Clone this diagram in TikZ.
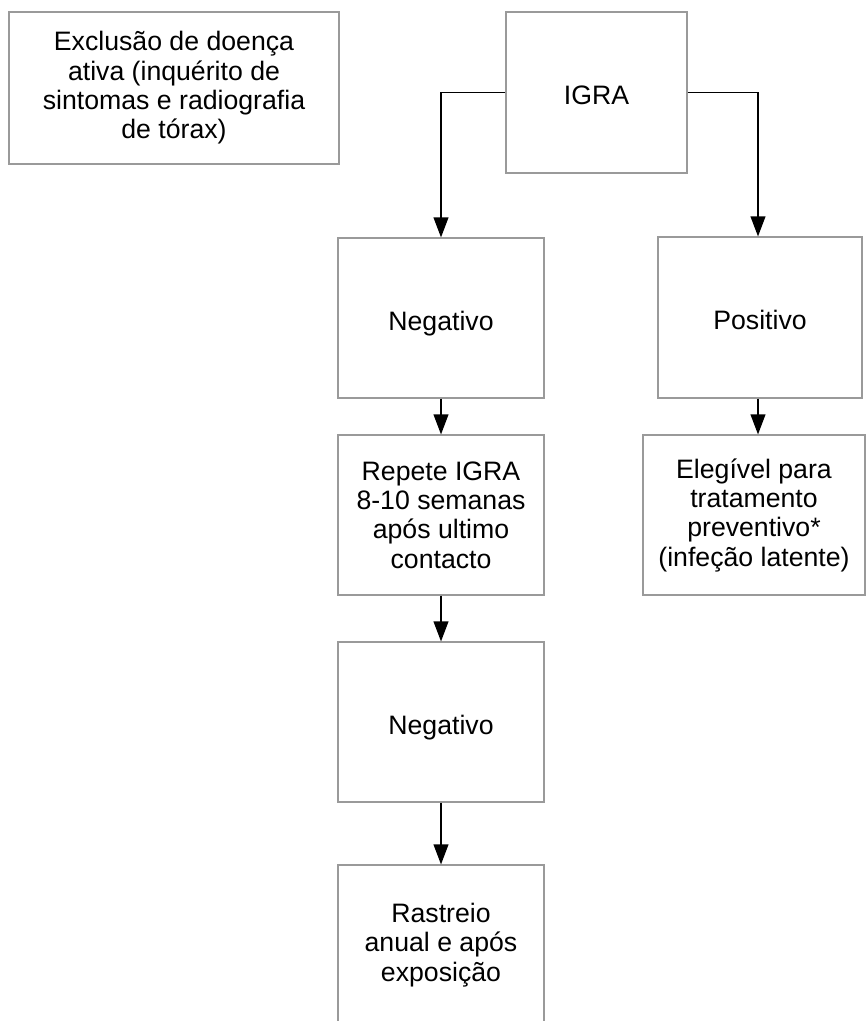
\documentclass[tikz,border=0pt]{standalone}
\usepackage{fontspec}
\setmainfont{Liberation Sans}
\usetikzlibrary{arrows.meta}
\definecolor{boxgray}{HTML}{9A9A9A}
\tikzset{
  box/.style={draw=boxgray, line width=0.8pt, fill=white, align=center, inner sep=0pt,
    font=\fontsize{20pt}{22pt}\selectfont},
  oneline/.style={text height=23pt, text depth=4.5pt},
  flow/.style={draw=black, line width=1.3pt, -{Triangle[length=15pt,width=11pt]}}
}
\begin{document}
\begin{tikzpicture}[x=0.75pt,y=-0.75pt]
\useasboundingbox (0,0) rectangle (866,1021);
\node[box, minimum width=247.5pt, minimum height=114pt] (excl) at (174,88)
  {Exclusão de doença\\ativa (inquérito de\\sintomas e radiografia\\de tórax)};
\node[box, oneline, minimum width=135.75pt, minimum height=120.75pt] (igra) at (596.5,92.5) {IGRA};
\node[box, oneline, minimum width=154.5pt, minimum height=120pt] (neg1) at (441,318) {Negativo};
\node[box, oneline, minimum width=153pt, minimum height=120.75pt] (pos) at (760,317.5) {Positivo};
\node[box, minimum width=154.5pt, minimum height=120pt] (rep) at (441,515)
  {Repete IGRA\\8-10 semanas\\após ultimo\\contacto};
\node[box, minimum width=166.5pt, minimum height=120pt] (eleg) at (754,515)
  {Elegível para\\tratamento\\preventivo*\\(infeção latente)};
\node[box, oneline, minimum width=154.5pt, minimum height=120pt] (neg2) at (441,722) {Negativo};
\node[box, minimum width=154.5pt, minimum height=120pt] (rast) at (441,945)
  {Rastreio\\anual e após\\exposição};
\draw[flow] (igra.west) -| (neg1.north);
\draw[flow] (igra.east) -| ([xshift=-1.5pt]pos.north);
\draw[flow] ([xshift=-1.5pt]pos.south) -- ([xshift=-1.5pt]pos.south |- eleg.north);
\draw[flow] (neg1.south) -- (rep.north);
\draw[flow] (rep.south) -- (neg2.north);
\draw[flow] (neg2.south) -- (rast.north);
\end{tikzpicture}
\end{document}
